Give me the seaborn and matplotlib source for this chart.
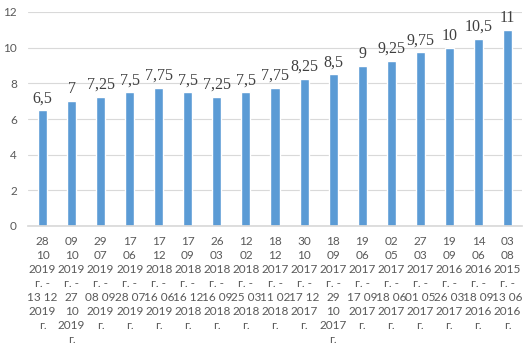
import matplotlib
matplotlib.use("Agg")
import matplotlib.pyplot as plt
import seaborn as sns
import pandas as pd

categories = [
    "28\n10\n2019\nг. -\n13 12\n2019\nг.",
    "09\n10\n2019\nг. -\n27\n10\n2019\nг.",
    "29\n07\n2019\nг. -\n08 09\n2019\nг.",
    "17\n06\n2019\nг. -\n28 07\n2019\nг.",
    "17\n12\n2018\nг. -\n16 06\n2019\nг.",
    "17\n09\n2018\nг. -\n16 12\n2018\nг.",
    "26\n03\n2018\nг. -\n16 09\n2018\nг.",
    "12\n02\n2018\nг. -\n25 03\n2018\nг.",
    "18\n12\n2017\nг. -\n11 02\n2018\nг.",
    "30\n10\n2017\nг. -\n17 12\n2017\nг.",
    "18\n09\n2017\nг. -\n29\n10\n2017\nг.",
    "19\n06\n2017\nг. -\n17 09\n2017\nг.",
    "02\n05\n2017\nг. -\n18 06\n2017\nг.",
    "27\n03\n2017\nг. -\n01 05\n2017\nг.",
    "19\n09\n2016\nг. -\n26 03\n2017\nг.",
    "14\n06\n2016\nг. -\n18 09\n2016\nг.",
    "03\n08\n2015\nг. -\n13 06\n2016\nг.",
]
values = [6.5, 7, 7.25, 7.5, 7.75, 7.5, 7.25, 7.5, 7.75, 8.25, 8.5, 9, 9.25, 9.75, 10, 10.5, 11]
yticks = [0, 2, 4, 6, 8, 10, 12]

df = pd.DataFrame({"cat": categories, "val": values})

sns.set_theme(style="white")
fig = plt.figure(figsize=(5.28, 3.5), dpi=100)
ax = fig.add_axes([28/528, 1 - 226/350, 494/528, 214/350])

sns.barplot(data=df, x="cat", y="val", color="#5B9BD5", saturation=1, width=0.31, ax=ax)

ax.set_ylim(0, 12)
ax.set_yticks(yticks)
ax.set_yticklabels([str(t) for t in yticks], fontsize=8.5, color="#595959", family="Lato")
ax.set_xlim(-0.5, len(categories) - 0.5)
ax.set_xticks(range(len(categories)))
ax.set_xticklabels(categories, fontsize=8.5, color="#595959", linespacing=1.33,
                   va="top", family="Lato")
ax.tick_params(axis="x", length=0, pad=7)
ax.tick_params(axis="y", length=0, pad=8)
ax.grid(axis="y", color="#D9D9D9", linewidth=0.8)
ax.set_axisbelow(True)
for s in ["top", "right", "left"]:
    ax.spines[s].set_visible(False)
ax.spines["bottom"].set_color("#D9D9D9")
ax.set_xlabel("")
ax.set_ylabel("")

for i, v in enumerate(values):
    lab = f"{v:g}".replace(".", ",")
    ax.text(i, v + 0.22, lab, ha="center", va="bottom", fontsize=11.5,
            family="Liberation Serif", color="#404040")

fig.savefig("out.png", dpi=100)
